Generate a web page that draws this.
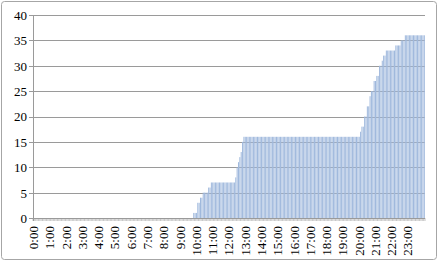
<!DOCTYPE html>
<html>
<head>
<meta charset="utf-8">
<script src="https://cdn.jsdelivr.net/npm/d3@7"></script>
<style>
	body { margin: 0; background: #fff; }
</style>
</head>
<body>
<script>
// counts per 5 minute slot, one row per hour (0:00 .. 23:55), plus 24:00
const hourRows = [
	[0, 0, 0, 0, 0, 0, 0, 0, 0, 0, 0, 0], // 0
	[0, 0, 0, 0, 0, 0, 0, 0, 0, 0, 0, 0], // 1
	[0, 0, 0, 0, 0, 0, 0, 0, 0, 0, 0, 0], // 2
	[0, 0, 0, 0, 0, 0, 0, 0, 0, 0, 0, 0], // 3
	[0, 0, 0, 0, 0, 0, 0, 0, 0, 0, 0, 0], // 4
	[0, 0, 0, 0, 0, 0, 0, 0, 0, 0, 0, 0], // 5
	[0, 0, 0, 0, 0, 0, 0, 0, 0, 0, 0, 0], // 6
	[0, 0, 0, 0, 0, 0, 0, 0, 0, 0, 0, 0], // 7
	[0, 0, 0, 0, 0, 0, 0, 0, 0, 0, 0, 0], // 8
	[0, 0, 0, 0, 0, 0, 0, 0, 0, 0, 1, 1], // 9
	[1, 3, 3, 4, 4, 5, 5, 5, 5, 6, 6, 7], // 10
	[7, 7, 7, 7, 7, 7, 7, 7, 7, 7, 7, 7], // 11
	[7, 7, 7, 7, 7, 8, 10, 11, 12, 13, 15, 16], // 12
	[16, 16, 16, 16, 16, 16, 16, 16, 16, 16, 16, 16], // 13
	[16, 16, 16, 16, 16, 16, 16, 16, 16, 16, 16, 16], // 14
	[16, 16, 16, 16, 16, 16, 16, 16, 16, 16, 16, 16], // 15
	[16, 16, 16, 16, 16, 16, 16, 16, 16, 16, 16, 16], // 16
	[16, 16, 16, 16, 16, 16, 16, 16, 16, 16, 16, 16], // 17
	[16, 16, 16, 16, 16, 16, 16, 16, 16, 16, 16, 16], // 18
	[16, 16, 16, 16, 16, 16, 16, 16, 16, 16, 16, 16], // 19
	[16, 17, 18, 18, 20, 20, 22, 22, 24, 25, 25, 27], // 20
	[27, 28, 28, 30, 30, 31, 32, 32, 33, 33, 33, 33], // 21
	[33, 33, 33, 34, 34, 34, 34, 35, 35, 35, 36, 36], // 22
	[36, 36, 36, 36, 36, 36, 36, 36, 36, 36, 36, 36], // 23
];
const lastValue = 36; // 24:00

const yTicks = [0, 5, 10, 15, 20, 25, 30, 35, 40];

const FONT = '"Liberation Serif", "DejaVu Serif", serif';

function slotLabel(i) {
	const m = i * 5;
	return `${Math.floor(m / 60)}:${String(m % 60).padStart(2, '0')}`;
}

const values = hourRows.flat().concat([lastValue]);
const data = values.map((v, i) => ({ t: slotLabel(i), v: v }));

const W = 439;
const H = 262;
const plot = { left: 33, right: 425, top: 15, bottom: 218 };

const svg = d3
	.select('body')
	.append('svg')
	.attr('width', W)
	.attr('height', H);

// chart border
svg
	.append('rect')
	.attr('x', 1.5)
	.attr('y', 1.5)
	.attr('width', W - 4)
	.attr('height', H - 4)
	.attr('rx', 3)
	.attr('fill', '#fff')
	.attr('stroke', '#a6a6a6');

const x = d3
	.scaleBand()
	.domain(data.map(d => d.t))
	.range([plot.left, plot.right])
	.paddingInner(0.25)
	.paddingOuter(0.12);

const y = d3
	.scaleLinear()
	.domain([0, 40])
	.range([plot.bottom, plot.top]);

// y axis labels
const yAxis = d3
	.axisLeft(y)
	.tickValues(yTicks)
	.tickSize(0)
	.tickPadding(6);

const gy = svg
	.append('g')
	.attr('transform', `translate(${plot.left},0)`)
	.call(yAxis);
gy.select('.domain').remove();
gy
	.attr('font-family', FONT)
	.attr('font-size', 13)
	.selectAll('text')
	.attr('fill', '#000')
	.attr('dy', '0.34em');

// gridlines
svg
	.append('g')
	.selectAll('line')
	.data(yTicks.filter(d => d > 0))
	.enter()
	.append('line')
	.attr('x1', plot.left - 4)
	.attr('x2', plot.right)
	.attr('y1', d => Math.round(y(d)) + 0.5)
	.attr('y2', d => Math.round(y(d)) + 0.5)
	.attr('stroke', '#9a9a9a');

// bars
svg
	.append('g')
	.selectAll('rect')
	.data(data.filter(d => d.v > 0))
	.enter()
	.append('rect')
	.attr('x', d => x(d.t))
	.attr('width', x.bandwidth())
	.attr('y', d => y(d.v))
	.attr('height', d => y(0) - y(d.v))
	.attr('fill', '#a0b9dd');

// category ticks (every slot)
svg
	.append('g')
	.selectAll('line')
	.data(d3.range(data.length + 1))
	.enter()
	.append('line')
	.attr('x1', i => plot.left + i * (plot.right - plot.left) / data.length)
	.attr('x2', i => plot.left + i * (plot.right - plot.left) / data.length)
	.attr('y1', plot.bottom)
	.attr('y2', plot.bottom + 3)
	.attr('stroke', '#a0a0a0')
	.attr('stroke-width', 0.6);

// axis lines
svg
	.append('line')
	.attr('x1', plot.left - 4)
	.attr('x2', plot.right)
	.attr('y1', plot.bottom + 0.5)
	.attr('y2', plot.bottom + 0.5)
	.attr('stroke', '#9a9a9a');

svg
	.append('line')
	.attr('x1', plot.left + 0.5)
	.attr('x2', plot.left + 0.5)
	.attr('y1', plot.top)
	.attr('y2', plot.bottom + 3)
	.attr('stroke', '#9a9a9a');

// hour labels, rotated
svg
	.append('g')
	.attr('font-family', FONT)
	.attr('font-size', 13)
	.selectAll('text')
	.data(data.filter((d, i) => i % 12 === 0 && i < 288))
	.enter()
	.append('text')
	.attr('transform', d => `translate(${x(d.t) + x.bandwidth() / 2},226) rotate(-90)`)
	.attr('text-anchor', 'end')
	.attr('dy', '0.34em')
	.attr('fill', '#000')
	.text(d => d.t);
</script>
</body>
</html>
